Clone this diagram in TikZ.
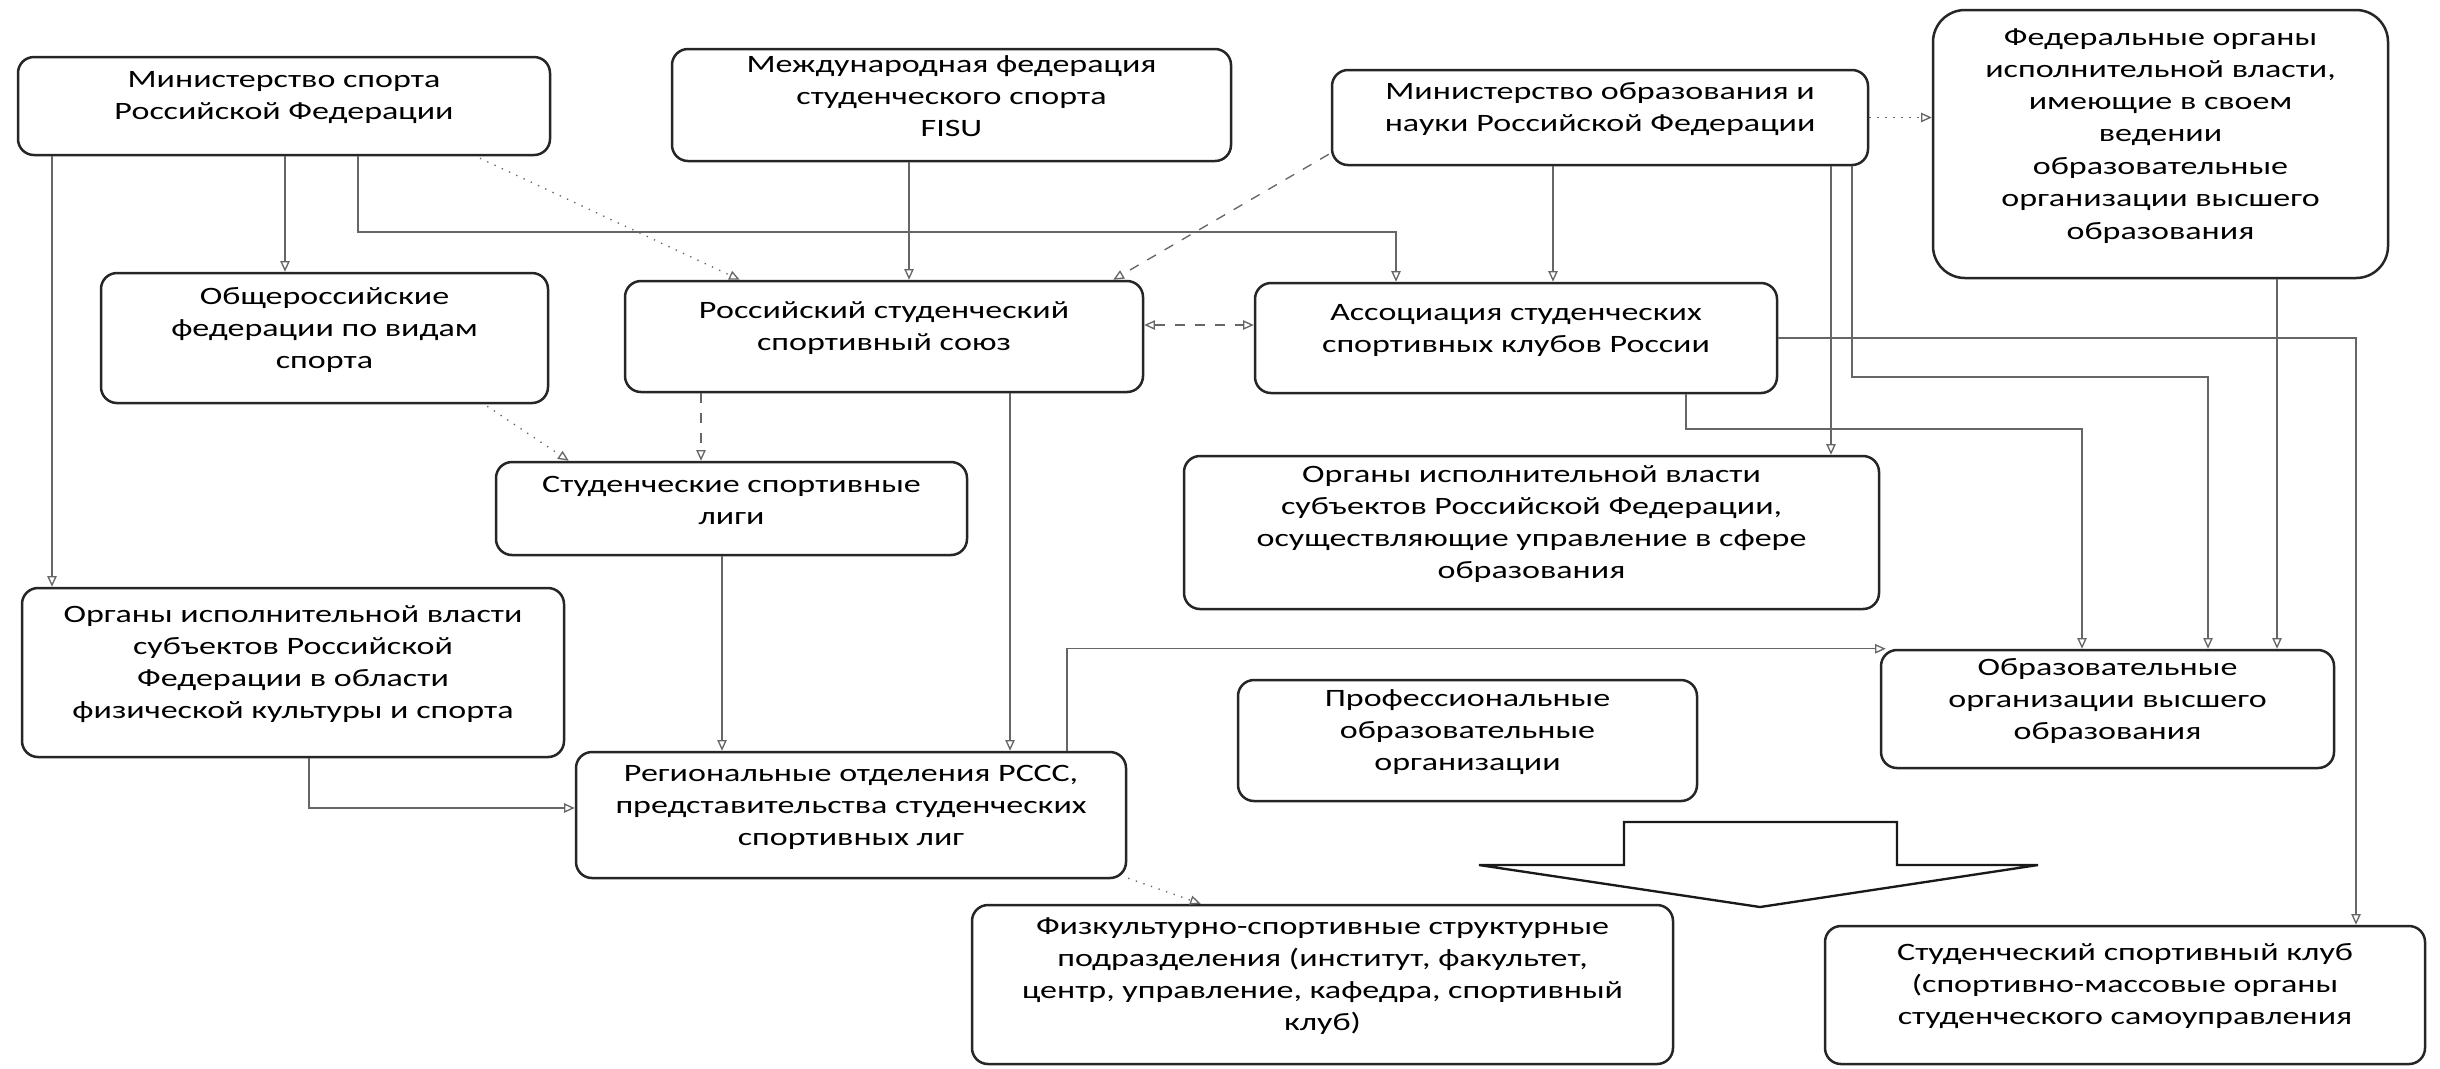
\documentclass[tikz,border=0pt]{standalone}
\usepackage{fontspec}
\setmainfont{Carlito}[FakeStretch=1.36]
\usetikzlibrary{arrows.meta,calc,fit}
\begin{document}
\begin{tikzpicture}[x=0.3pt,y=-0.3pt,
  box/.style={draw=black!85, line width=0.75pt, rounded corners=4.8pt, align=center,
    inner sep=0pt, font=\fontsize{7.5}{9.6}\selectfont},
  bigbox/.style={box, rounded corners=9.6pt, font=\fontsize{7.5}{9.7}\selectfont},
  conn/.style={draw=black!60, line width=0.4pt, -{Triangle[open,length=3.2pt,width=2.8pt]}},
  both/.style={draw=black!60, line width=0.4pt, dashed, {Triangle[open,length=3.2pt,width=2.8pt]}-{Triangle[open,length=3.2pt,width=2.8pt]}}]
\useasboundingbox (0,0) rectangle (2440,1068);
\fill[white] (0,0) rectangle (2440,1068);

\node[box, fit={(18,57) (550,155)}] (b1) {Министерство спорта\\Российской Федерации};
\node[box, fit={(672,49) (1231,161)}] (b2) {Международная федерация\\студенческого спорта\\FISU};
\node[box, fit={(1332,70) (1868,165)}] (b3) {Министерство образования и\\науки Российской Федерации};
\node[bigbox, fit={(1933,10) (2388,278)}] (b4) {Федеральные органы\\исполнительной власти,\\имеющие в своем\\ведении\\образовательные\\организации высшего\\образования};
\node[box, fit={(101,273) (548,403)}] (b5) {Общероссийские\\федерации по видам\\спорта};
\node[box, fit={(625,281) (1143,392)}] (b6) {Российский студенческий\\спортивный союз};
\node[box, fit={(1255,283) (1777,393)}] (b7) {Ассоциация студенческих\\спортивных клубов России};
\node[box, fit={(496,462) (967,555)}] (b8) {Студенческие спортивные\\лиги};
\node[box, fit={(1184,456) (1879,609)}] (b9) {Органы исполнительной власти\\субъектов Российской Федерации,\\осуществляющие управление в сфере\\образования};
\node[box, fit={(22,588) (564,757)}] (b10) {Органы исполнительной власти\\субъектов Российской\\Федерации в области\\физической культуры и спорта};
\node[box, fit={(1238,680) (1697,801)}] (b11) {Профессиональные\\образовательные\\организации};
\node[box, fit={(1881,650) (2334,768)}] (b12) {Образовательные\\организации высшего\\образования};
\node[box, fit={(576,752) (1126,878)}] (b13) {Региональные отделения РССС,\\представительства студенческих\\спортивных лиг};
\node[box, fit={(972,905) (1673,1064)}] (b14) {Физкультурно-спортивные структурные\\подразделения (институт, факультет,\\центр, управление, кафедра, спортивный\\клуб)};
\node[box, fit={(1825,926) (2425,1064)}] (b15) {Студенческий спортивный клуб\\(спортивно-массовые органы\\студенческого самоуправления};

% connectors
\draw[conn] (b1.south -| 52,0) -- (b10.north -| 52,0);
\draw[conn] (b1.south -| 285,0) -- (b5.north -| 285,0);
\draw[conn] (b1.south -| 358,0) |- (1396,232) -- (b7.north -| 1396,0);
\draw[conn,dotted] ($(b1.south)+(196,2)$) -- ($(b6.north west)+(116,0)$);
\draw[conn] (b2.south -| 909,0) -- (b6.north -| 909,0);
\draw[conn,dashed] ($(b3.south west)+(-2,-12)$) -- ($(b6.north east)+(-31,0)$);
\draw[conn] (b3.south -| 1553,0) -- (b7.north -| 1553,0);
\draw[conn,dotted] (b3.east) -- (b3.east -| b4.west);
\draw[both] (b6.east |- 0,325) -- (b7.west |- 0,325);
\draw[conn] (b3.south -| 1831,0) -- (b9.north -| 1831,0);
\draw[conn] (b3.south -| 1852,0) |- (2208,377) -- (b12.north -| 2208,0);
\draw[conn] (b4.south -| 2277,0) -- (b12.north -| 2277,0);
\draw[conn] (b7.east) -| (b15.north -| 2356,0);
\draw[conn] (b7.south -| 1686,0) |- (2082,429) -- (b12.north -| 2082,0);
\draw[conn,dotted] ($(b5.south east)+(-62,2)$) -- ($(b8.north west)+(74,0)$);
\draw[conn,dashed] (b6.south -| 701,0) -- (b8.north -| 701,0);
\draw[conn] (b8.south -| 722,0) -- (b13.north -| 722,0);
\draw[conn] (b6.south -| 1010,0) -- (b13.north -| 1010,0);
\draw[conn] (b10.south -| 309,0) |- (b13.west |- 0,808);
\draw[conn] (b13.north -| 1067,0) |- ($(b12.north west)+(6,0)$);
\draw[conn,dotted] ($(b13.south east)+(1,-1)$) -- ($(b14.north west)+(230,0)$);

% block arrow
\draw[black!90, line width=0.7pt] (1624,822) -- (1897,822) -- (1897,865) -- (2038,865) -- (1760,907) -- (1479,865) -- (1624,865) -- cycle;
\end{tikzpicture}
\end{document}
